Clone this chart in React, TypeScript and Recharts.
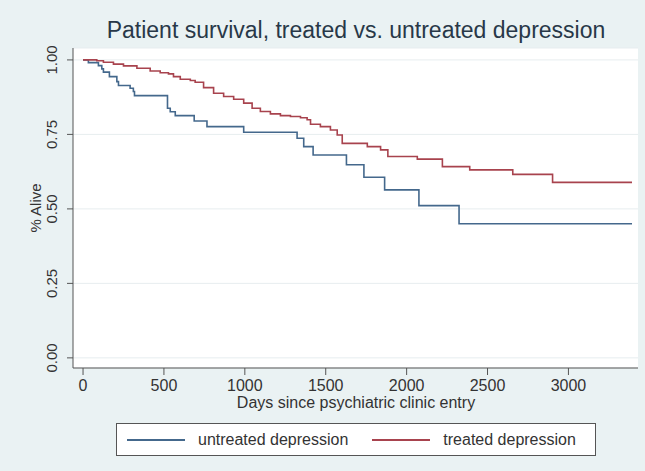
import { LineChart, Line, XAxis, YAxis, CartesianGrid, Legend } from 'recharts';

// Kaplan-Meier estimates (days, proportion alive)
const untreatedDays = [0, 33, 95, 116, 126, 163, 209, 219, 291, 311, 318, 522, 539, 570, 687, 766, 993, 1323, 1364, 1422, 1628, 1736, 1864, 2076, 2324, 3393];
const untreatedSurv = [1.0, 0.991, 0.981, 0.97, 0.959, 0.944, 0.927, 0.914, 0.905, 0.894, 0.88, 0.838, 0.826, 0.813, 0.795, 0.776, 0.757, 0.737, 0.709, 0.681, 0.648, 0.606, 0.564, 0.511, 0.45, 0.45];

const treatedDays = [0, 64, 85, 126, 188, 250, 333, 415, 477, 528, 559, 601, 663, 693, 745, 807, 869, 931, 993, 1045, 1096, 1158, 1220, 1282, 1344, 1385, 1406, 1467, 1529, 1571, 1602, 1757, 1839, 1884, 2066, 2221, 2390, 2656, 2902, 3393];
const treatedSurv = [1.0, 1.0, 0.997, 0.992, 0.986, 0.98, 0.972, 0.963, 0.957, 0.953, 0.944, 0.935, 0.931, 0.925, 0.907, 0.888, 0.877, 0.868, 0.855, 0.838, 0.827, 0.819, 0.813, 0.81, 0.806, 0.799, 0.784, 0.776, 0.765, 0.748, 0.72, 0.709, 0.698, 0.676, 0.667, 0.642, 0.631, 0.616, 0.589, 0.589];

const seriesNames = ['untreated depression', 'treated depression'];

const xTicks = [0, 500, 1000, 1500, 2000, 2500, 3000];
const yTicks = [0, 0.25, 0.5, 0.75, 1];
const yTickLabels = ['0.00', '0.25', '0.50', '0.75', '1.00'];

const untreated = untreatedDays.map((t, i) => ({ t, s: untreatedSurv[i] }));
const treated = treatedDays.map((t, i) => ({ t, s: treatedSurv[i] }));

const FONT = '"Liberation Sans", Arial, Helvetica, sans-serif';
const BLUE = '#44688c';
const RED = '#a8434e';
const TEXT = '#333';

function XTick({ x, payload }: any) {
  return (
    <text x={x} y={391} textAnchor="middle" fontSize={16} fill={TEXT} fontFamily={FONT}>
      {payload.value}
    </text>
  );
}

function YTick({ y, payload }: any) {
  const label = yTickLabels[yTicks.indexOf(payload.value)];
  return (
    <text
      x={52}
      y={y}
      transform={`rotate(-90, 52, ${y})`}
      textAnchor="middle"
      dominantBaseline="central"
      fontSize={15}
      fill={TEXT}
      fontFamily={FONT}
    >
      {label}
    </text>
  );
}

const xLabel = () => (
  <text x={356} y={408} textAnchor="middle" fontSize={16} fill={TEXT} fontFamily={FONT}>
    Days since psychiatric clinic entry
  </text>
);

const yLabel = () => (
  <text
    x={35}
    y={208}
    transform="rotate(-90, 35, 208)"
    textAnchor="middle"
    dominantBaseline="central"
    fontSize={15}
    fill={TEXT}
    fontFamily={FONT}
  >
    % Alive
  </text>
);

function LegendBox({ payload }: any) {
  // keep the series order (untreated first), not alphabetical
  const items = [...(payload || [])].sort(
    (a: any, b: any) => seriesNames.indexOf(a.value) - seriesNames.indexOf(b.value)
  );
  return (
    <div
      style={{
        boxSizing: 'border-box',
        width: 480,
        height: 33,
        border: '1px solid #555',
        background: '#fff',
        display: 'flex',
        alignItems: 'center',
        fontFamily: FONT,
        fontSize: 16,
        color: TEXT,
      }}
    >
      {items.map((p: any, i: number) => (
        <div key={p.value} style={{ display: 'flex', alignItems: 'center', marginLeft: i === 0 ? 10 : 24 }}>
          <span style={{ display: 'inline-block', width: 58, borderTop: `2px solid ${p.color}` }} />
          <span style={{ marginLeft: 13 }}>{p.value}</span>
        </div>
      ))}
    </div>
  );
}

export default function App() {
  return (
    <div style={{ position: 'absolute', left: 0, top: 0, width: 645, height: 471, background: '#eaf2f3' }}>
      <div
        style={{
          position: 'absolute',
          left: 0,
          top: 19,
          width: 712,
          textAlign: 'center',
          fontFamily: FONT,
          fontSize: 23,
          lineHeight: '23px',
          color: '#283848',
          whiteSpace: 'nowrap',
        }}
      >
        Patient survival, treated vs. untreated depression
      </div>
      <LineChart width={645} height={471} margin={{ top: 48, right: 7, bottom: 73, left: 33 }}>
        <CartesianGrid vertical={false} stroke="#e7edef" fill="#fff" />
        <XAxis
          type="number"
          dataKey="t"
          domain={[-62, 3430]}
          ticks={xTicks}
          allowDataOverflow
          height={30}
          axisLine={{ stroke: '#555' }}
          tickLine={{ stroke: '#555' }}
          tickSize={7}
          tick={XTick}
          label={xLabel}
        />
        <YAxis
          type="number"
          domain={[-0.034, 1.04]}
          ticks={yTicks}
          allowDataOverflow
          width={40}
          axisLine={{ stroke: '#555' }}
          tickLine={{ stroke: '#555' }}
          tickSize={6}
          tick={YTick}
          label={yLabel}
        />
        <Legend
          layout="horizontal"
          verticalAlign="middle"
          align="center"
          wrapperStyle={{ position: 'absolute', left: 116, top: 423, width: 480, height: 33 }}
          content={LegendBox}
        />
        <Line
          data={untreated}
          dataKey="s"
          name={seriesNames[0]}
          type="stepAfter"
          stroke={BLUE}
          strokeWidth={1.6}
          dot={false}
          isAnimationActive={false}
        />
        <Line
          data={treated}
          dataKey="s"
          name={seriesNames[1]}
          type="stepAfter"
          stroke={RED}
          strokeWidth={1.6}
          dot={false}
          isAnimationActive={false}
        />
      </LineChart>
    </div>
  );
}
